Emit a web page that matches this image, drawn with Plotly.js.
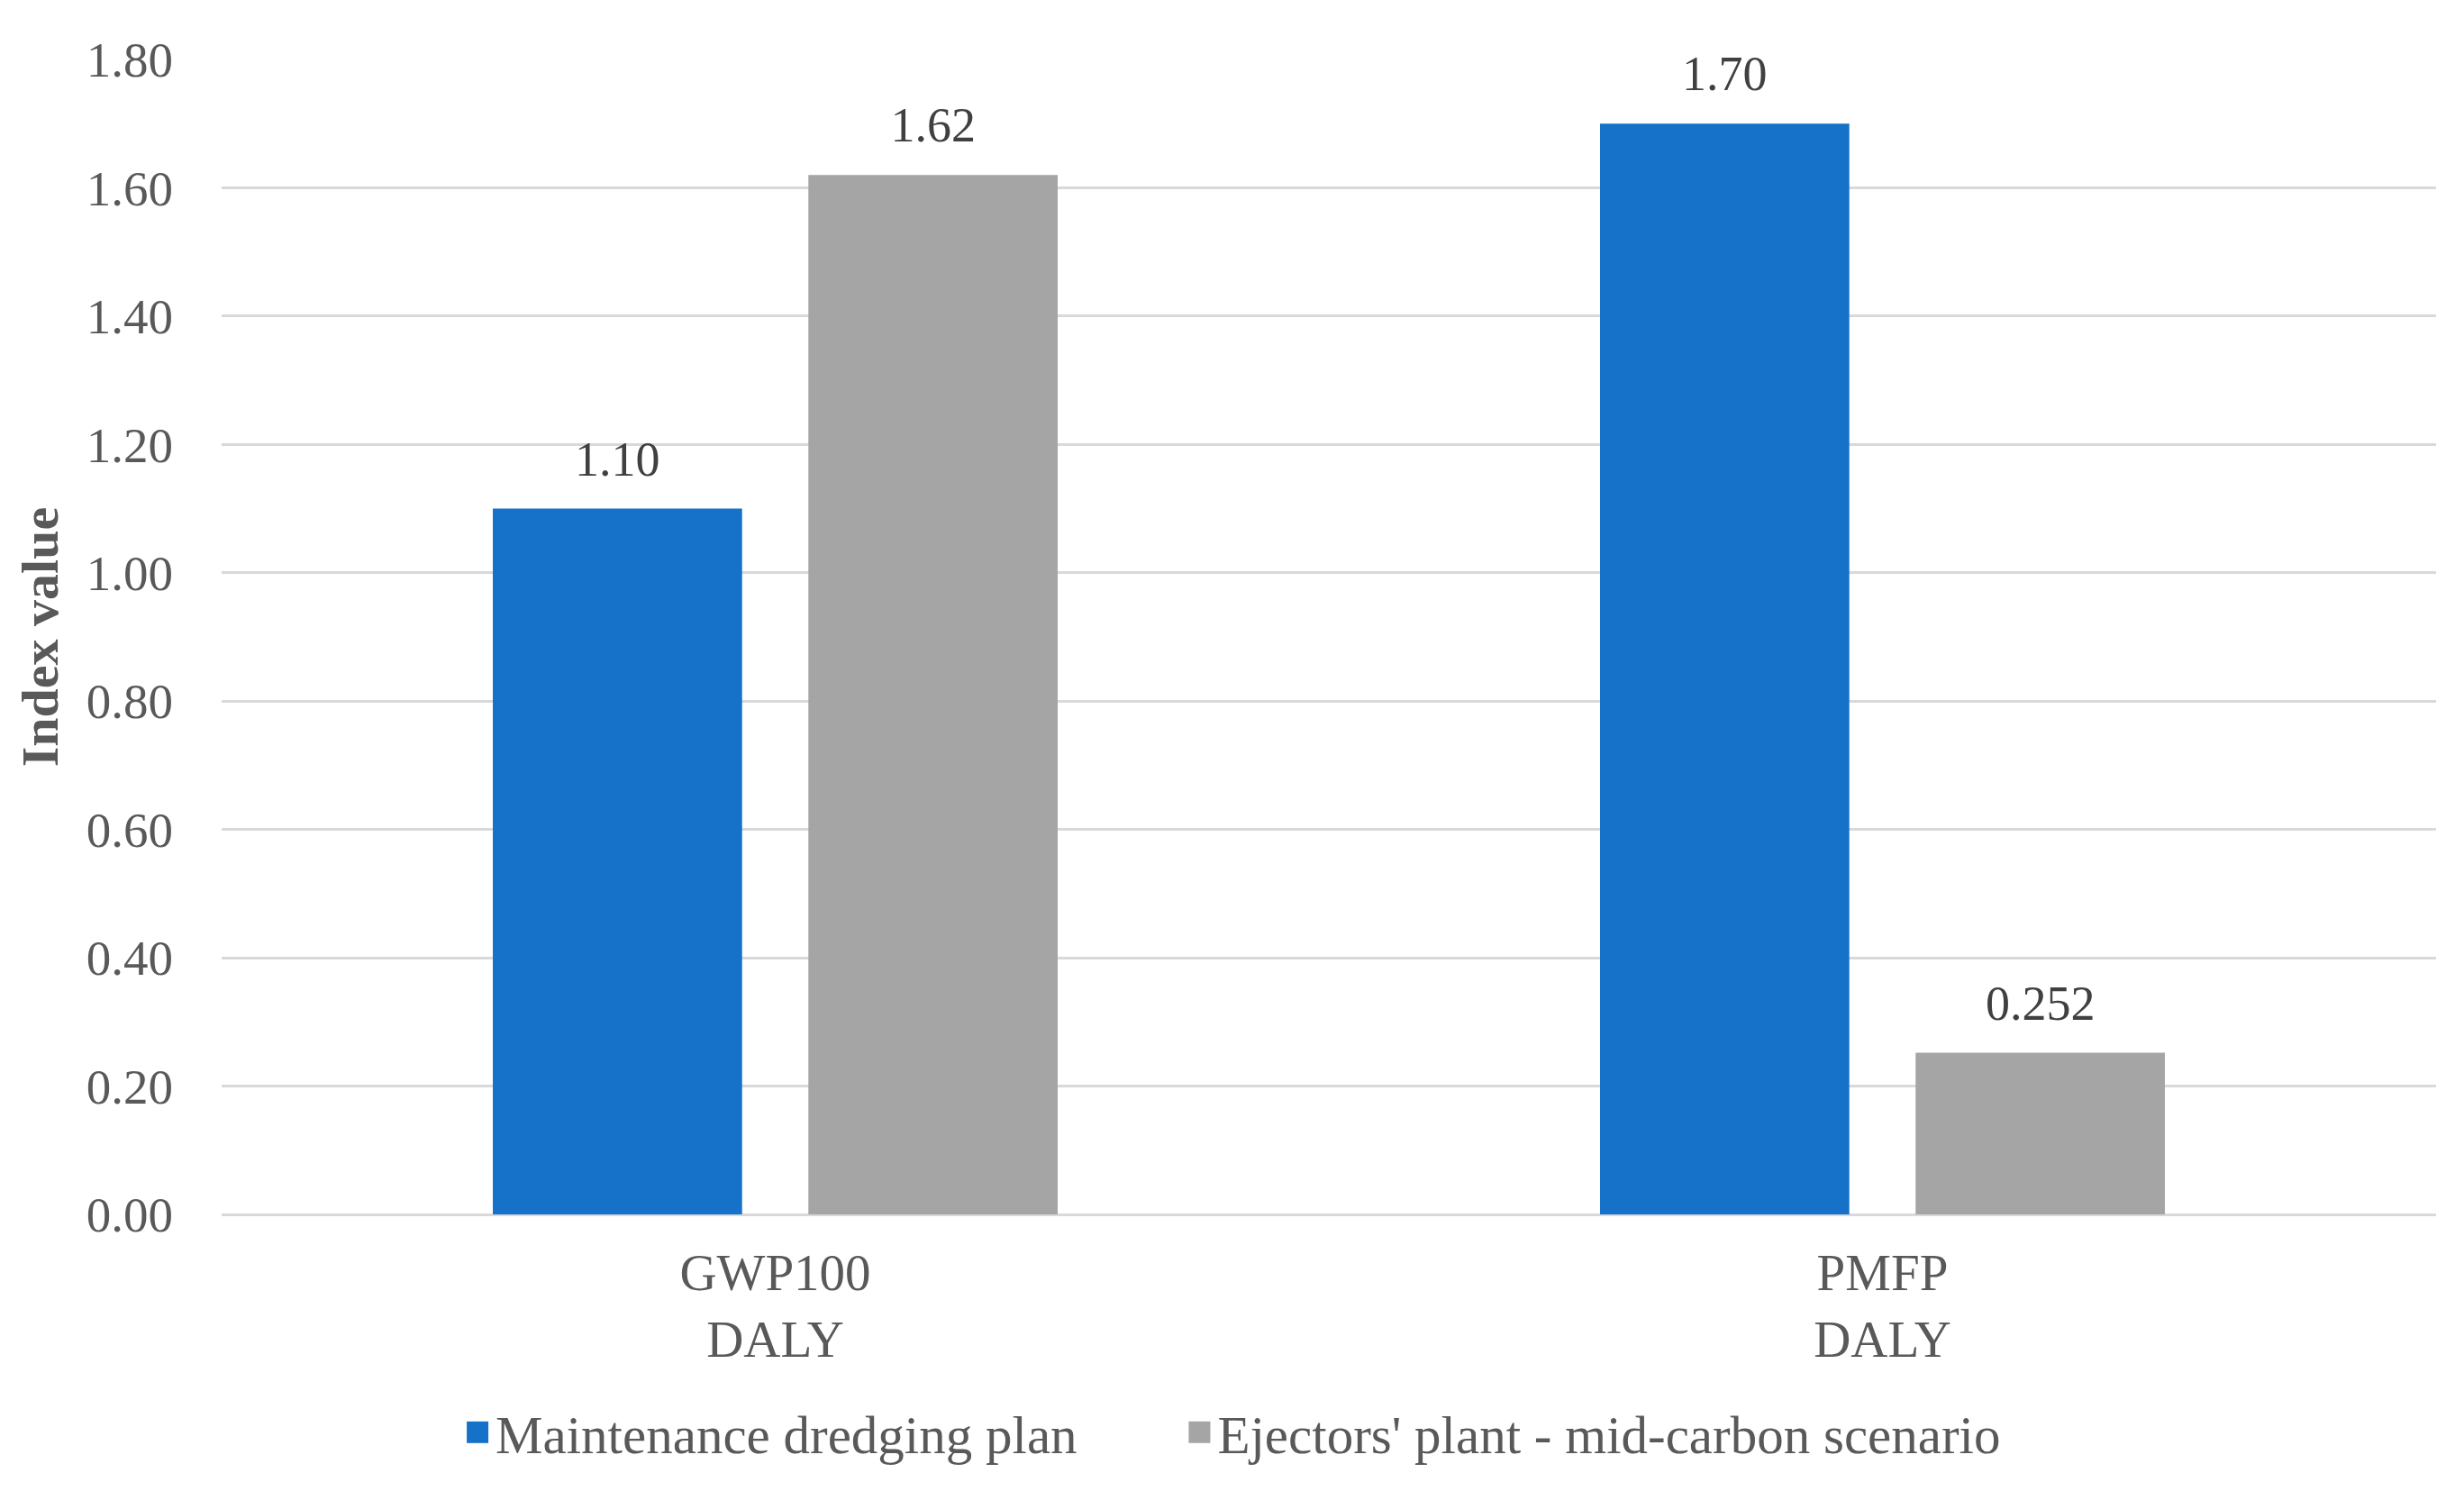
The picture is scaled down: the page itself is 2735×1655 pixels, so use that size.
<!DOCTYPE html>
<html>
<head>
<meta charset="utf-8">
<script src="https://cdn.plot.ly/plotly-3.0.1.min.js"></script>
<style>html,body{margin:0;padding:0;background:#fff;}#chart{width:2735px;height:1655px;}</style>
</head>
<body>
<div id="chart"></div>
<script>
const categories = ["GWP100<br>DALY", "PMFP<br>DALY"];
const seriesNames = ["Maintenance dredging plan", "Ejectors' plant - mid-carbon scenario"];
const maintenanceValues = [1.10, 1.70];
const ejectorsValues = [1.62, 0.252];
const maintenanceLabels = ["1.10", "1.70"];
const ejectorsLabels = ["1.62", "0.252"];
const yTickValues = [0, 0.2, 0.4, 0.6, 0.8, 1.0, 1.2, 1.4, 1.6, 1.8];

const FONT = "Liberation Serif, Times New Roman, serif";

const traces = [
  {
    type: "bar", name: seriesNames[0], x: categories, y: maintenanceValues,
    text: maintenanceLabels, textposition: "outside", cliponaxis: false,
    textfont: {family: FONT, size: 54, color: "#404040"},
    marker: {color: "#1672C9"}, hoverinfo: "skip", legend: "legend"
  },
  {
    type: "bar", name: seriesNames[1], x: categories, y: ejectorsValues,
    text: ejectorsLabels, textposition: "outside", cliponaxis: false,
    textfont: {family: FONT, size: 54, color: "#404040"},
    marker: {color: "#A5A5A5"}, hoverinfo: "skip", legend: "legend2"
  }
];

const legendCommon = {
  orientation: "h", xref: "container", yref: "container",
  xanchor: "left", y: 0.0393, yanchor: "middle",
  font: {family: FONT, size: 59, color: "#595959"},
  itemwidth: 30, bgcolor: "rgba(0,0,0,0)"
};

const layout = {
  width: 2735, height: 1655,
  margin: {l: 246, r: 31, t: 66, b: 307, pad: 0},
  paper_bgcolor: "#ffffff", plot_bgcolor: "#ffffff",
  font: {family: FONT, size: 55, color: "#595959"},
  barmode: "group", bargap: 0.43, bargroupgap: 0.21,
  showlegend: true,
  legend: Object.assign({}, legendCommon, {x: 0.1865}),
  legend2: Object.assign({}, legendCommon, {x: 0.4795}),
  xaxis: {
    type: "category", showgrid: false, zeroline: false, showline: false,
    ticks: "", ticklabelstandoff: 26,
    tickfont: {family: FONT, size: 57, color: "#595959"}
  },
  yaxis: {
    range: [0, 1.8], tickvals: yTickValues, tickformat: ".2f",
    showgrid: true, gridcolor: "#D9D9D9", gridwidth: 3,
    zeroline: true, zerolinecolor: "#D9D9D9", zerolinewidth: 3,
    showline: false, ticks: "", ticklabelstandoff: 53,
    tickfont: {family: FONT, size: 55, color: "#595959"},
    title: {text: "<b>Index value</b>", standoff: 12,
            font: {family: FONT, size: 58, color: "#595959"}},
    automargin: false
  }
};

Plotly.newPlot("chart", traces, layout, {displayModeBar: false, staticPlot: true}).then(function () {
  // enlarge legend swatches and lift value labels a little, like the reference
  document.querySelectorAll("#chart .legendpoints path").forEach(function (p) {
    const tr = p.getAttribute("transform") || "";
    p.setAttribute("transform", tr + " scale(2)");
  });
  document.querySelectorAll("#chart .bars .bartext").forEach(function (t) {
    const tr = t.getAttribute("transform") || "";
    t.setAttribute("transform", "translate(0,-22) " + tr);
  });
});
</script>
</body>
</html>
